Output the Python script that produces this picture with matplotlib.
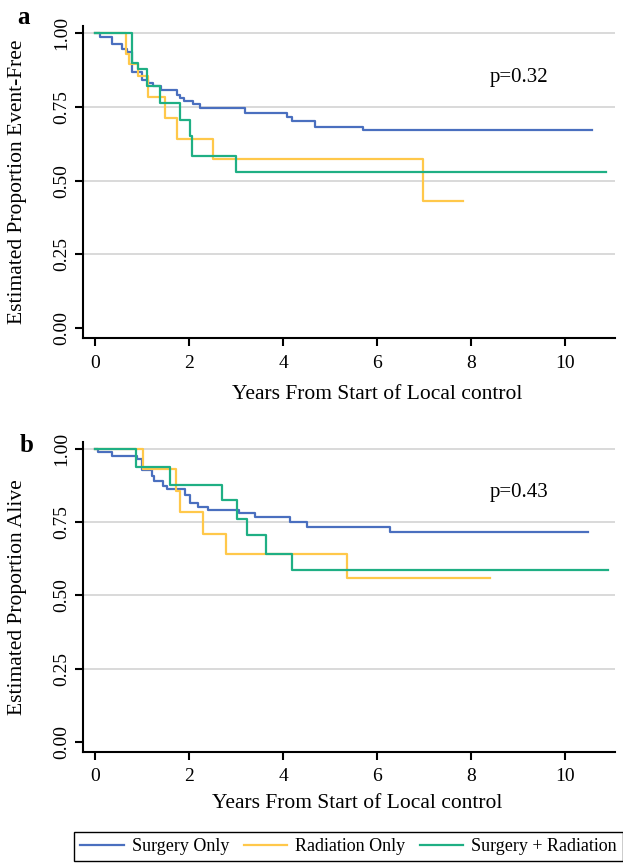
import numpy as np
import matplotlib.pyplot as plt

plt.rcParams['font.family'] = ['Liberation Serif', 'DejaVu Serif']

groups = ['Surgery Only', 'Radiation Only', 'Surgery + Radiation']
colors = ['#4a6fbf', '#ffc84a', '#1faf84']

# panel a: event-free survival (step times, survival after each step)
a_surg_t = [0, 0.10, 0.35, 0.57, 0.67, 0.78, 0.99, 1.13, 1.24, 1.40, 1.74, 1.81, 1.88, 2.09, 2.23, 3.19, 4.08, 4.18, 4.68, 5.70, 10.58]
a_surg_s = [1.0, 0.988, 0.965, 0.948, 0.937, 0.870, 0.840, 0.830, 0.820, 0.807, 0.790, 0.780, 0.770, 0.760, 0.745, 0.730, 0.717, 0.703, 0.683, 0.671, 0.671]
a_rad_t = [0, 0.66, 0.71, 0.90, 1.13, 1.49, 1.74, 2.50, 6.97, 7.82]
a_rad_s = [1.0, 0.931, 0.897, 0.854, 0.784, 0.711, 0.643, 0.573, 0.431, 0.431]
a_comb_t = [0, 0.78, 0.92, 1.11, 1.38, 1.81, 2.01, 2.06, 2.99, 10.87]
a_comb_s = [1.0, 0.900, 0.880, 0.820, 0.764, 0.705, 0.651, 0.585, 0.530, 0.530]

# panel b: overall survival
b_surg_t = [0, 0.06, 0.36, 0.89, 0.99, 1.21, 1.26, 1.44, 1.53, 1.91, 2.02, 2.19, 2.39, 3.05, 3.41, 4.14, 4.51, 6.28, 10.48]
b_surg_s = [1.0, 0.990, 0.977, 0.966, 0.927, 0.909, 0.890, 0.875, 0.864, 0.844, 0.816, 0.802, 0.793, 0.782, 0.767, 0.751, 0.733, 0.718, 0.718]
b_rad_t = [0, 1.02, 1.71, 1.80, 2.30, 2.78, 5.36, 8.39]
b_rad_s = [1.0, 0.930, 0.856, 0.784, 0.711, 0.642, 0.560, 0.560]
b_comb_t = [0, 0.86, 1.60, 2.69, 3.01, 3.22, 3.64, 4.19, 10.90]
b_comb_s = [1.0, 0.9375, 0.876, 0.825, 0.7625, 0.706, 0.643, 0.585, 0.585]

panels = [
    ('a', 'Estimated Proportion Event-Free', 'p=0.32',
     [(a_surg_t, a_surg_s), (a_rad_t, a_rad_s), (a_comb_t, a_comb_s)]),
    ('b', 'Estimated Proportion Alive', 'p=0.43',
     [(b_surg_t, b_surg_s), (b_rad_t, b_rad_s), (b_comb_t, b_comb_s)]),
]

fig = plt.figure(figsize=(6.23, 8.63), dpi=100)
ax_a = fig.add_axes([0.1332, 0.6084, 0.854, 0.3615])
ax_b = fig.add_axes([0.1332, 0.129, 0.854, 0.3592])

xlab_pos = [(0.553, -0.152), (0.515, -0.136)]
letter_pos = [(24, 17), (27, 445)]

for ax, (letter, ylab, ptxt, curves), xl, lp in zip([ax_a, ax_b], panels, xlab_pos, letter_pos):
    for yv in [0.25, 0.5, 0.75, 1.0]:
        ax.axhline(yv, color='#d3d3d3', lw=1.2, zorder=0)
    handles = []
    for (t, s), c, g in zip(curves, colors, groups):
        h, = ax.step(t, s, where='post', color=c, lw=1.6, label=g)
        handles.append(h)
    ax.set_xlim(-0.26, 11.06)
    ax.set_ylim(-0.034, 1.025)
    ax.set_xticks([0, 2, 4, 6, 8, 10])
    ax.set_yticks([0, 0.25, 0.5, 0.75, 1.0])
    ax.set_yticklabels(['0.00', '0.25', '0.50', '0.75', '1.00'], rotation=90, va='center')
    for sp in ['top', 'right']:
        ax.spines[sp].set_visible(False)
    for sp in ['left', 'bottom']:
        ax.spines[sp].set_linewidth(1.5)
    ax.tick_params(axis='both', labelsize=14, width=1.5, length=6, colors='black')
    ax.tick_params(axis='y', pad=3)
    ax.tick_params(axis='x', pad=6)
    ax.set_ylabel(ylab, fontsize=15.5)
    ax.yaxis.set_label_coords(-0.106, 0.5)
    ax.set_xlabel('Years From Start of Local control', fontsize=15.5, va='top')
    ax.xaxis.set_label_coords(*xl)
    ax.text(8.4, 0.85, ptxt, fontsize=15, va='center', ha='left')
    fig.text(lp[0] / 623, 1 - lp[1] / 863, letter, fontsize=18, fontweight='bold',
             ha='center', va='center')

fig.legend(handles, groups, loc='center', bbox_to_anchor=(0.5594, 0.0191), ncol=3,
           fontsize=13, frameon=True, fancybox=False, edgecolor='black',
           framealpha=1, handlelength=2.4, columnspacing=0.8, handletextpad=0.45,
           borderpad=0.35)

fig.savefig('out.png', dpi=100)
